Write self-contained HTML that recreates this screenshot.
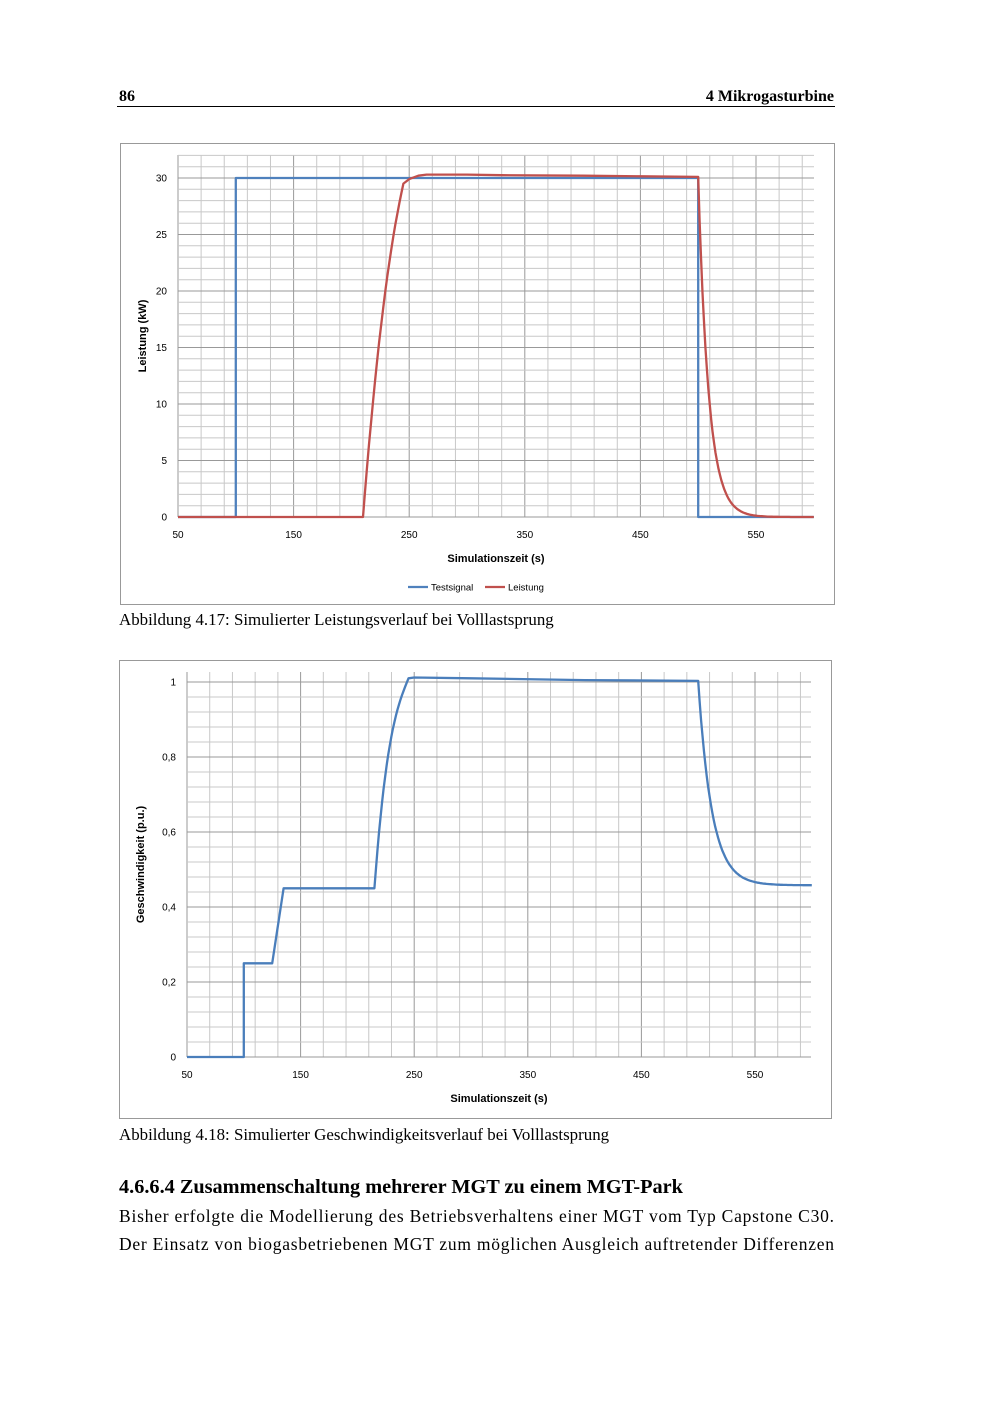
<!DOCTYPE html>
<html><head><meta charset="utf-8"><style>
body{margin:0;background:#fff;}
svg{display:block}
</style></head><body>
<svg id="s" width="1000" height="1415" xmlns="http://www.w3.org/2000/svg" font-family="Liberation Sans, sans-serif">
<text x="119" y="101" font-family="Liberation Serif, serif" font-weight="bold" font-size="16">86</text>
<text x="834" y="101" text-anchor="end" font-family="Liberation Serif, serif" font-weight="bold" font-size="16">4 Mikrogasturbine</text>
<line x1="117" y1="106.5" x2="835" y2="106.5" stroke="#000" stroke-width="1"/>
<rect x="120.5" y="143.5" width="714" height="461" fill="none" stroke="#999"/>
<rect x="119.5" y="660.5" width="712" height="458" fill="none" stroke="#999"/>
<g id="g1"></g><g id="g2"></g>
<text x="119" y="625" font-family="Liberation Serif, serif" font-size="16.9">Abbildung 4.17: Simulierter Leistungsverlauf bei Volllastsprung</text>
<text x="119" y="1140" font-family="Liberation Serif, serif" font-size="16.9">Abbildung 4.18: Simulierter Geschwindigkeitsverlauf bei Volllastsprung</text>
<text x="119" y="1193" font-family="Liberation Serif, serif" font-weight="bold" font-size="20.3">4.6.6.4 Zusammenschaltung mehrerer MGT zu einem MGT-Park</text>
<text x="119" y="1222" font-family="Liberation Serif, serif" font-size="17.5" textLength="715" lengthAdjust="spacing">Bisher erfolgte die Modellierung des Betriebsverhaltens einer MGT vom Typ Capstone C30.</text>
<text x="119" y="1250" font-family="Liberation Serif, serif" font-size="17.5" textLength="715" lengthAdjust="spacing">Der Einsatz von biogasbetriebenen MGT zum möglichen Ausgleich auftretender Differenzen</text>
</svg>
<script>
function chart(id,o){
 var g=document.getElementById(id),h='';
 var X=function(v){return o.x0+(v-50)*o.sx}, Y=function(v){return o.y0-(v)*o.sy};
 for(var v=50;v<=600;v+=20){var x=X(v);var maj=((v-50)%100==0);
  h+='<line x1="'+x+'" y1="'+o.top+'" x2="'+x+'" y2="'+o.y0+'" stroke="'+(maj?'#999':'#c8c8c8')+'"/>';}
 for(var i=0;i<=o.nmin;i++){var val=i*o.minor;var y=Y(val);var maj=(i%5==0);
  if(y<o.top)break;
  h+='<line x1="'+o.x0+'" y1="'+y+'" x2="'+o.x1+'" y2="'+y+'" stroke="'+(maj?'#999':'#c8c8c8')+'"/>';
  if(maj)h+='<text x="'+(o.x0-11)+'" y="'+(y+3.5)+'" font-size="10" text-anchor="end">'+o.fmt(val)+'</text>';}
 for(var v=50;v<=550;v+=100)h+='<text x="'+X(v)+'" y="'+(o.y0+21)+'" font-size="10" text-anchor="middle">'+v+'</text>';
 h+='<text x="'+((o.x0+o.x1)/2)+'" y="'+(o.y0+45)+'" font-size="11" font-weight="bold" text-anchor="middle">Simulationszeit (s)</text>';
 h+='<text transform="translate('+o.ylx+','+((o.top+o.y0)/2)+') rotate(-90)" font-size="11" font-weight="bold" text-anchor="middle">'+o.ylab+'</text>';
 o.series.forEach(function(s){var p=s.pts.map(function(q,i){return (i?'L':'M')+X(q[0]).toFixed(1)+','+Y(q[1]).toFixed(1)}).join('');
  h+='<path d="'+p+'" fill="none" stroke="'+s.c+'" stroke-width="2.3" stroke-linejoin="round"/>';});
 h+=o.extra||'';
 g.innerHTML=h;
}
function gen(f,a,b,n){var r=[];for(var i=0;i<=n;i++){var t=a+(b-a)*i/n;r.push([t,f(t)])}return r}
var red=[[50,0],[210,0]];
red=red.concat(gen(function(t){var u=(t-210)/35;return 29.5*(0.55*u+0.45*(1-Math.pow(1-u,2.2)))},210,245,20));
red=red.concat([[250,29.9],[258,30.2],[265,30.3],[300,30.3],[330,30.25],[400,30.2],[450,30.15],[500,30.1]]);
red=red.concat(gen(function(t){return 30.1*Math.exp(-(t-500)/9)},500,600,80));
chart('g1',{x0:178,x1:814,sx:1.156,y0:517,sy:11.3,top:155,minor:1,nmin:35,fmt:function(v){return v},ylx:146,ylab:'Leistung (kW)',
 series:[{c:'#4f81bd',pts:[[50,0],[100,0],[100,30],[500,30],[500,0],[600,0]]},{c:'#c0504d',pts:red}],
 extra:'<line x1="408" y1="587" x2="428" y2="587" stroke="#4f81bd" stroke-width="2.3"/><text x="431" y="590.5" font-size="9.5">Testsignal</text><line x1="485" y1="587" x2="505" y2="587" stroke="#c0504d" stroke-width="2.3"/><text x="508" y="590.5" font-size="9.5">Leistung</text>'});
var b=[[50,0],[100,0],[100,0.25],[125,0.25],[130,0.35],[135,0.45],[215,0.45]];
b=b.concat(gen(function(t){var u=(t-215)/30;return 0.45+0.56*(0.4*u+0.6*(1-Math.pow(1-u,3)))},215,242,20));
b=b.concat([[245,1.01],[250,1.012],[300,1.01],[400,1.005],[500,1.003]]);
b=b.concat(gen(function(t){return 0.458+0.545*Math.exp(-(t-500)/12)},500,600,80));
chart('g2',{x0:187,x1:811,sx:1.136,y0:1057,sy:375,top:672,minor:0.04,nmin:26,fmt:function(v){v=Math.round(v*10)/10;return v==0?'0':(v==1?'1':String(v).replace('.',','))},ylx:144,ylab:'Geschwindigkeit (p.u.)',
 series:[{c:'#4a7ebb',pts:b}]});
</script>
</body></html>
